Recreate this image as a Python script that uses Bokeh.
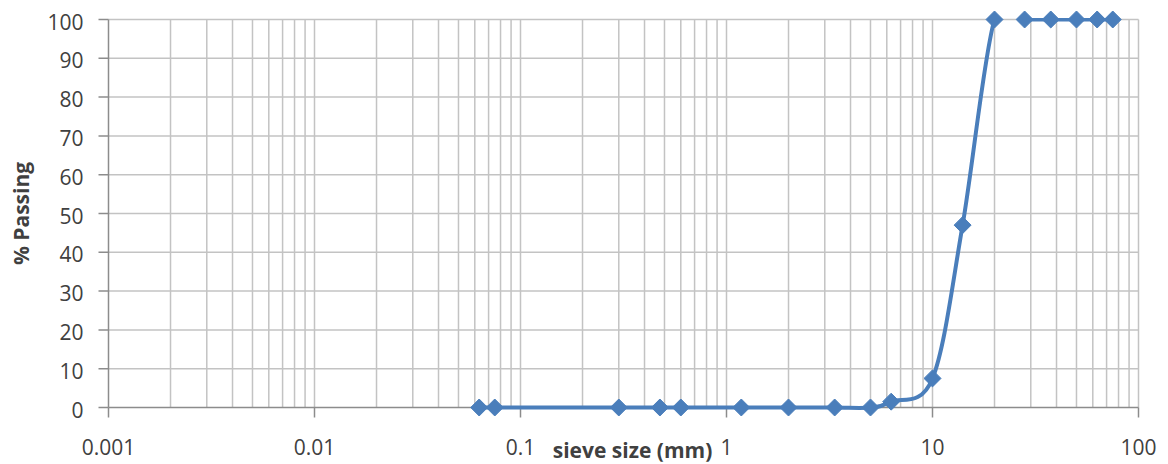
import numpy as np
from bokeh.plotting import figure
from bokeh.models import Range1d
from bokeh.core.properties import value
from bokeh.embed import file_html
from bokeh.resources import INLINE

# ---- data ----
sieve_mm = [0.063, 0.075, 0.3, 0.475, 0.6, 1.18, 2.0, 3.35, 5.0, 6.3, 10.0, 14.0, 20.0, 28.0, 37.5, 50.0, 63.0, 75.0]
passing = [0, 0, 0, 0, 0, 0, 0, 0, 0, 1.5, 7.5, 47, 100, 100, 100, 100, 100, 100]
x_ticks = [0.001, 0.01, 0.1, 1, 10, 100]
x_tick_labels = ["0.001", "0.01", "0.1", "1", "10", "100"]
y_ticks = [0, 10, 20, 30, 40, 50, 60, 70, 80, 90, 100]
y_tick_labels = ["0", "10", "20", "30", "40", "50", "60", "70", "80", "90", "100"]
x_minor = [k * 10.0 ** e for e in range(-3, 2) for k in range(2, 10)]
x_title = "sieve size (mm)"
y_title = "% Passing"

# ---- layout (pixels) ----
W, H = 1168, 464
LEFT, RIGHT, TOP, BOTTOM = 108, 1138, 19, 407   # plot-area edges
PX_DEC = (RIGHT - LEFT) / 5.0                    # pixels per decade
PX_Y = (BOTTOM - TOP) / 100.0                    # pixels per % unit

BLUE = "#4a7ebb"
GRID = "#c3c3c3"
AXIS = "#8c8c8c"
TXT = "#404040"
FONT = value("Open Sans")

xmin, xmax = x_ticks[0], x_ticks[-1]
ymin, ymax = y_ticks[0], y_ticks[-1]
x_range = Range1d(10 ** (np.log10(xmin) - LEFT / PX_DEC),
                  10 ** (np.log10(xmin) + (W - LEFT) / PX_DEC))
y_range = Range1d(ymin - (H - BOTTOM) / PX_Y, ymax + TOP / PX_Y)

p = figure(width=W, height=H, x_axis_type="log", y_axis_type="linear",
           x_axis_location=None, y_axis_location=None,
           x_range=x_range, y_range=y_range,
           output_backend="svg", toolbar_location=None,
           min_border_left=0, min_border_right=0, min_border_top=0, min_border_bottom=0)
p.outline_line_color = None
p.background_fill_color = "white"
p.border_fill_color = "white"
p.xgrid.visible = False
p.ygrid.visible = False

# grid lines (drawn from the tick lists)
vx = x_ticks[1:] + x_minor
p.segment(x0=vx, y0=[ymin] * len(vx), x1=vx, y1=[ymax] * len(vx),
          line_color=GRID, line_width=1.5)
hy = y_ticks[1:]
p.segment(x0=[xmin] * len(hy), y0=hy, x1=[xmax] * len(hy), y1=hy,
          line_color=GRID, line_width=1.5)

# axis lines
p.segment(x0=[xmin, xmin], y0=[ymin, ymin], x1=[xmin, xmax], y1=[ymax, ymin],
          line_color=AXIS, line_width=1.5)

# tick marks (10 px outside)
tick_x = xmin * 10 ** (-10 / PX_DEC)
p.segment(x0=[xmin] * len(y_ticks), y0=y_ticks, x1=[tick_x] * len(y_ticks), y1=y_ticks,
          line_color=AXIS, line_width=1.5)
tick_y = ymin - 10 / PX_Y
p.segment(x0=x_ticks, y0=[ymin] * len(x_ticks), x1=x_ticks, y1=[tick_y] * len(x_ticks),
          line_color=AXIS, line_width=1.5)

# smoothed line (Excel-like Catmull-Rom Bezier in log-x space)
lx = np.log10(np.array(sieve_mm, dtype=float))
yy = np.array(passing, dtype=float)
n = len(lx)
x0s, y0s, x1s, y1s, cx0, cy0, cx1, cy1 = [], [], [], [], [], [], [], []
for i in range(n - 1):
    a = max(i - 1, 0)
    b = min(i + 2, n - 1)
    t0x = (lx[i + 1] - lx[a]) / 6.0
    t0y = (yy[i + 1] - yy[a]) / 6.0
    t1x = (lx[b] - lx[i]) / 6.0
    t1y = (yy[b] - yy[i]) / 6.0
    x0s.append(10 ** lx[i]); y0s.append(yy[i])
    x1s.append(10 ** lx[i + 1]); y1s.append(yy[i + 1])
    cx0.append(10 ** (lx[i] + t0x)); cy0.append(yy[i] + t0y)
    cx1.append(10 ** (lx[i + 1] - t1x)); cy1.append(yy[i + 1] - t1y)
p.bezier(x0=x0s, y0=y0s, x1=x1s, y1=y1s, cx0=cx0, cy0=cy0, cx1=cx1, cy1=cy1,
         line_color=BLUE, line_width=4, line_cap="round")

# Excel clips the curve at the top of the plot area: mask the overshoot
p.quad(left=[xmin], right=[xmax], bottom=[ymax + 0.4], top=[y_range.end + 5],
       fill_color="white", line_color=None)

# markers
p.scatter(sieve_mm, passing, marker="square", angle=np.pi / 4, size=12,
          fill_color=BLUE, line_color=BLUE)

# tick labels
p.text(x=[xmin] * len(y_ticks), y=y_ticks, text=y_tick_labels,
       x_offset=-25, y_offset=2, text_align="right", text_baseline="alphabetic",
       text_font=FONT, text_font_size=value("21px"), text_color=TXT)
p.text(x=x_ticks, y=[ymin] * len(x_ticks), text=x_tick_labels,
       x_offset=0, y_offset=39, text_align="center", text_baseline="alphabetic",
       text_font=FONT, text_font_size=value("21px"), text_color=TXT)

# axis titles
p.text(x=[xmin], y=[ymin], text=[x_title], x_offset=524, y_offset=42,
       text_align="center", text_baseline="alphabetic",
       text_font=FONT, text_font_size=value("21px"), text_font_style="bold",
       text_color=TXT)
p.text(x=[xmin], y=[(ymin + ymax) / 2], text=[y_title], x_offset=-88, y_offset=0,
       angle=np.pi / 2, text_align="center", text_baseline="middle",
       text_font=FONT, text_font_size=value("21px"), text_font_style="bold",
       text_color=TXT)

open("out.html", "w").write(file_html(p, INLINE))
